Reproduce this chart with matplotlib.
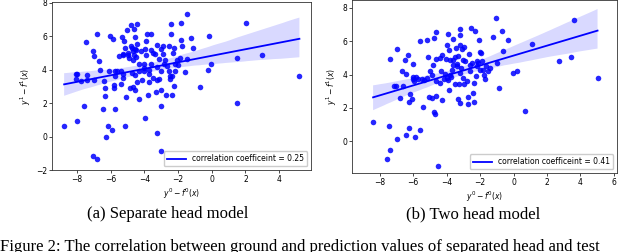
import numpy as np
import matplotlib
matplotlib.use("Agg")
import matplotlib.pyplot as plt
import seaborn as sns

# (a) separate head model: y0 - f0(x) vs y1 - f1(x)
sep_x = [-8.77, -8.0, -8.08, -8.0, -8.08, -7.74, -7.4, -7.4, -7.46, -7.6,
         -7.03, -6.99, -6.99, -6.79, -6.67, -6.61, -7.03, -6.83, -6.43, -6.37,
         -6.37, -6.47, -6.29, -6.15, -5.91, -6.13, -6.03, -5.89, -5.83, -5.79,
         -5.77, -5.72, -5.72, -5.5, -5.4, -5.42, -5.32, -5.26, -5.26, -5.26,
         -5.22, -5.14, -5.1, -5.16, -5.04, -4.96, -4.86, -4.78, -4.74, -4.7,
         -4.66, -4.62, -4.58, -4.58, -4.58, -4.72, -4.66, -4.56, -4.5, -4.46,
         -4.42, -4.34, -4.34, -4.34, -4.42, -4.15, -4.03, -4.03, -3.99, -3.97,
         -3.91, -3.83, -3.73, -3.73, -3.79, -3.63, -3.59, -3.59, -3.47, -3.37,
         -3.31, -3.27, -3.27, -3.23, -3.23, -3.15, -3.11, -3.03, -3.01, -2.99,
         -2.99, -2.91, -2.87, -2.83, -2.77, -2.71, -2.67, -2.56, -2.52, -2.48,
         -2.44, -2.4, -2.36, -2.36, -2.3, -2.24, -2.22, -2.2, -2.16, -2.08,
         -1.88, -1.82, -1.76, -1.8, -1.56, -1.46, -1.46, -1.24, -1.12, -0.69,
         -0.25, -0.15, -0.03, 1.5, 1.5, 2.03, 3.01, 5.21,
         -5.0, -4.8, -4.6, -4.9, -4.5, -5.3, -5.6, -4.0, -3.5, -3.0,
         -2.0, -2.5, -3.9, -4.2, -3.7]
sep_y = [0.62, 0.94, 3.72, 3.76, 3.42, 3.32, 3.68, 3.36, 5.68, 1.84,
         5.12, 4.82, 3.36, 6.14, 4.52, 3.98, -1.18, -1.36, 3.34, 2.9,
         2.44, 1.68, -0.02, 0.62, 0.4, 3.92, 6.04, 5.82, 3.08, 2.92,
         1.64, 3.92, 3.64, 4.84, 3.14, 3.94, 5.96, 3.72, 3.52, 4.92,
         5.7, 5.3, 2.36, 0.62, 6.38, 4.9, 2.92, 6.66, 5.32, 5.1,
         2.96, 6.44, 5.96, 3.7, 2.78, 3.8, 4.6, 5.26, 4.74, 6.72,
         3.28, 2.24, 3.92, 4.32, 5.56, 3.36, 3.92, 4.36, 1.14, 5.24,
         5.72, 6.16, 3.76, 3.28, 2.52, 6.12, 5.16, 4.36, 5.0, 4.92,
         2.68, 3.4, 0.22, 5.48, 4.16, 3.44, 4.64, 5.26, 1.84, -0.84,
         2.8, 4.96, 5.44, 4.36, 4.56, 2.52, 4.24, 3.92, 5.44, 3.44,
         6.16, 6.76, 2.48, 3.64, 5.0, 5.32, 3.0, 4.36, 3.92, 4.56,
         4.72, 5.8, 5.44, 6.8, 3.84, 7.32, 4.64, 5.92, 5.28, 2.96,
         4.0, 6.02, 4.32, 4.72, 2.02, 6.8, 4.88, 3.64,
         5.0, 5.4, 4.9, 4.7, 5.2, 4.9, 3.9, 4.1, 3.5, 3.9,
         4.3, 3.6, 4.9, 5.1, 4.0]

# (b) two head model
two_x = [-8.4, -7.46, -7.4, -7.4, -7.54, -6.98, -7.14, -7.0, -6.96, -6.8,
         -6.68, -6.6, -6.5, -6.46, -6.34, -6.44, -6.24, -6.2, -6.28, -6.1,
         -6.04, -6.04, -5.94, -5.87, -5.85, -5.69, -5.61, -5.61, -5.43, -5.35,
         -5.19, -5.17, -5.09, -5.01, -5.07, -4.85, -4.77, -4.73, -4.69, -4.65,
         -4.63, -4.61, -4.61, -4.79, -4.49, -4.41, -4.35, -4.27, -4.25, -4.17,
         -4.11, -4.05, -4.01, -3.93, -3.91, -3.89, -3.85, -3.83, -3.75, -3.69,
         -3.65, -3.63, -3.53, -3.49, -3.45, -3.41, -3.35, -3.33, -3.29, -3.23,
         -3.21, -3.21, -3.19, -3.13, -3.07, -3.01, -2.95, -2.97, -2.89, -2.73,
         -2.75, -2.67, -2.59, -2.55, -2.47, -2.42, -2.38, -2.34, -2.28, -2.24,
         -2.18, -2.12, -2.04, -2.02, -1.94, -1.88, -1.84, -1.78, -1.68, -1.62,
         -1.5, -1.42, -1.22, -1.06, -0.98, -0.9, -0.72, -0.62, -0.32, -0.04,
         0.18, 0.7, 1.11, 2.71, 3.43, 3.59, 5.02,
         -3.4, -3.0, -2.6, -3.8, -4.4, -3.2, -2.2, -2.0, -4.0, -3.6,
         -2.8, -5.5, -6.0, -4.9]
two_y = [1.13, 0.88, 4.94, -0.54, -1.07, 0.14, 3.28, 3.28, 5.53, 2.61,
         4.22, 3.32, 4.86, 0.38, 5.15, 4.04, 0.76, 2.81, 2.37, 2.51,
         4.62, 3.88, 3.6, 0.26, 3.88, 3.72, 0.66, 5.99, 2.07, 3.68,
         3.76, 6.09, 5.07, 4.22, 2.63, 2.61, 6.19, 1.77, 1.63, 3.62,
         6.57, 2.71, 4.94, 4.58, -1.49, 3.46, 4.22, 5.19, 2.47, 3.74,
         4.06, 4.92, 5.79, 6.41, 3.68, 3.04, 5.45, 4.86, 3.82, 4.3,
         6.13, 4.58, 5.03, 3.42, 5.61, 4.64, 2.55, 5.13, 3.42, 6.35,
         5.79, 6.75, 2.27, 4.38, 5.53, 3.8, 5.67, 3.44, 4.82, 2.63,
         2.21, 5.25, 4.2, 6.77, 4.68, 2.87, 2.37, 3.48, 6.59, 3.92,
         4.84, 4.68, 6.09, 5.35, 5.29, 4.84, 4.28, 3.98, 3.74, 4.54,
         4.24, 4.38, 6.23, 7.4, 4.68, 3.16, 6.59, 5.43, 6.05, 4.08,
         4.24, 1.81, 5.85, 4.82, 5.07, 7.26, 3.76,
         4.5, 4.9, 4.6, 4.0, 5.0, 4.1, 4.5, 4.3, 3.8, 4.9,
         3.6, 3.7, 3.7, 4.0]

panels = [
    (sep_x, sep_y, "correlation coefficeint = 0.25", "(a) Separate head model",
     [0.081, 0.325, 0.405, 0.667], (-9.5, 5.9), (-2, 8.05), 168),
    (two_x, two_y, "correlation coefficeint = 0.41", "(b) Two head model",
     [0.55, 0.313, 0.414, 0.687], (-9.66, 6.18), (-1.93, 8.48), 473),
]

fig = plt.figure(figsize=(6.4, 2.52), dpi=100)

for x, y, lab, cap, rect, xl, yl, cx in panels:
    ax = fig.add_axes(rect)
    sns.regplot(x=np.array(x), y=np.array(y), ax=ax, color="blue", seed=0,
                scatter_kws={"s": 16, "alpha": 0.85, "linewidths": 0},
                line_kws={"lw": 1.3, "label": lab})
    ax.set_xticks([-8, -6, -4, -2, 0, 2, 4, 6])
    ax.set_xlim(xl)
    ax.set_ylim(yl)
    ax.tick_params(labelsize=5.5, length=2, width=0.5, pad=1.5)
    for s in ax.spines.values():
        s.set_linewidth(0.6)
        s.set_color("#333333")
    ax.set_xlabel("$y^0 - f^0(x)$", fontsize=5.5, labelpad=2)
    ax.set_ylabel("$y^1 - f^1(x)$", fontsize=5.5, labelpad=2)
    ax.legend(loc="lower right", fontsize=5.5, handlelength=2.5,
              borderpad=0.4, framealpha=1, edgecolor="#cccccc")
    fig.text(cx / 640, 1 - 214 / 252, cap, ha="center", va="center",
             family="Liberation Serif", fontsize=12)

fig.text(0.0, 1 - 239 / 252,
         "Figure 2: The correlation between ground and prediction values of separated head and test",
         ha="left", va="top", family="Liberation Serif", fontsize=12)

fig.savefig("out.png", dpi=100)
